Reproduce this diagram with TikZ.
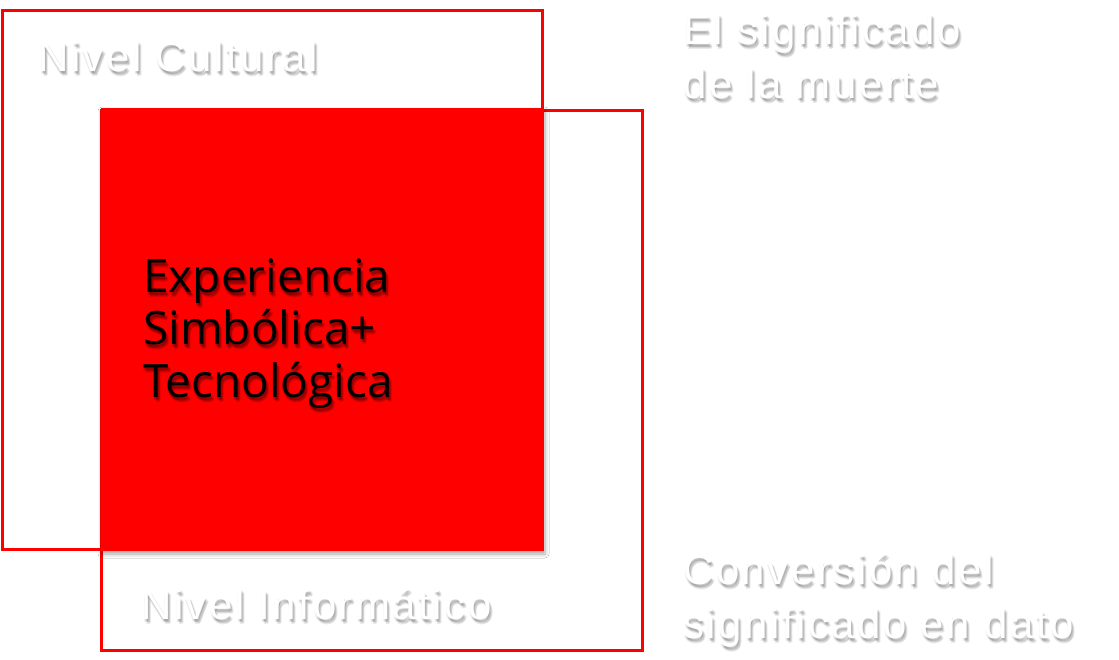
\documentclass[tikz,border=0pt]{standalone}
\usepackage{fontspec}
\setmainfont{Liberation Sans}
\newfontfamily\lblfont[LetterSpace=6]{Liberation Sans}
\newfontfamily\corefont{Open Sans}
\usetikzlibrary{shadows.blur}

\tikzset{
	level/.style={draw=red, line width=3pt},
	lbl/.style={anchor=base west, inner sep=0pt, align=left, text=white, font=\lblfont\fontsize{42}{54}\selectfont},
	lblshade/.style={lbl, text=black, opacity=0.08},
	core/.style={anchor=base west, inner sep=0pt, align=left, text=black, font=\corefont\fontsize{46}{52.5}\selectfont},
	coreshade/.style={core, opacity=0.12}
}

\begin{document}
\begin{tikzpicture}[x=1pt,y=-1pt]
			\useasboundingbox[fill=white] (0,0) rectangle (1119,659);
			% the two levels
			\draw[level] (2,10) rectangle (542,549);
			\draw[level] (101,110) rectangle (642,650);
			\fill[red, blur shadow={shadow xshift=1pt, shadow yshift=-3pt, shadow blur radius=4pt, shadow opacity=35}] (101,108) rectangle (544,551);
			% shadows of the labels (base = last line)
			\foreach \dx/\dy [count=\i] in {1/2,2/3,3/4,2/5,0/3} {
				\node[lblshade] (cult-s\i) at (38+\dx,71+\dy) {Nivel Cultural};
				\node[lblshade] (info-s\i) at (141+\dx,619+\dy) {Nivel Informático};
				\node[lblshade] (sig-s\i) at (683+\dx,98+\dy) {El significado\\de la muerte};
				\node[lblshade] (dato-s\i) at (683+\dx,638+\dy) {Conversión del\\significado en dato};
				\node[coreshade] (exp-s\i) at (143+\dx,397+\dy) {Experiencia\\Simbólica+\\Tecnológica};
			}
			% labels
			\node[lbl] (cult) at (38,71) {Nivel Cultural};
			\node[lbl] (info) at (141,619) {Nivel Informático};
			\node[lbl] (sig) at (683,98) {El significado\\de la muerte};
			\node[lbl] (dato) at (683,638) {Conversión del\\significado en dato};
			\node[core] (exp) at (143,397) {Experiencia\\Simbólica+\\Tecnológica};
		\end{tikzpicture}
\end{document}
